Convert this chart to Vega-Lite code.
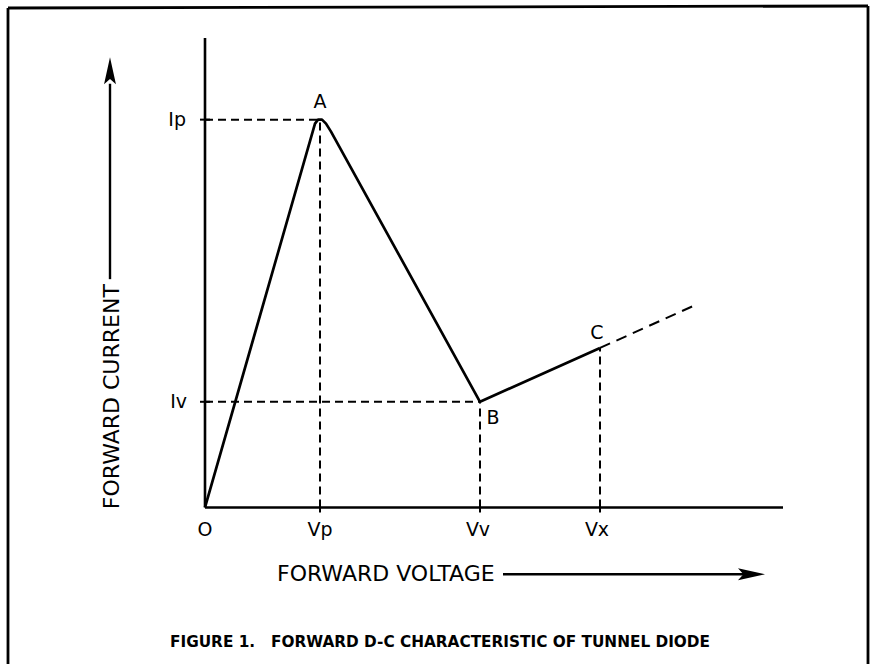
{
  "$schema": "https://vega.github.io/schema/vega-lite/v6.json",
  "width": 874,
  "height": 666,
  "autosize": {"type": "fit", "contains": "padding"},
  "padding": 0,
  "background": "white",
  "config": {"view": {"stroke": null}},
  "datasets": {
    "curve": [
      {"o": 1, "v": 0.0, "i": 0.0},
      {"o": 2, "v": 1.10, "i": 3.85},
      {"o": 3, "v": 1.13, "i": 3.89},
      {"o": 4, "v": 1.17, "i": 3.89},
      {"o": 5, "v": 1.21, "i": 3.85},
      {"o": 6, "v": 1.26, "i": 3.77},
      {"o": 7, "v": 2.75, "i": 1.06},
      {"o": 8, "v": 3.95, "i": 1.60}
    ],
    "extension": [
      {"o": 1, "v": 3.95, "i": 1.60},
      {"o": 2, "v": 4.88, "i": 2.02}
    ],
    "guides": [
      {"v1": 0, "v2": 1.14, "i1": 3.89, "i2": 3.89},
      {"v1": 0, "v2": 2.75, "i1": 1.06, "i2": 1.06},
      {"v1": 1.15, "v2": 1.15, "i1": 0, "i2": 3.89},
      {"v1": 2.75, "v2": 2.75, "i1": 0, "i2": 1.06},
      {"v1": 3.95, "v2": 3.95, "i1": 0, "i2": 1.60}
    ],
    "axes": [
      {"v1": 0, "v2": 0, "i1": 0, "i2": 4.71},
      {"v1": 0, "v2": 5.78, "i1": 0, "i2": 0}
    ],
    "ticks": [
      {"v1": -0.05, "v2": 0.05, "i1": 3.89, "i2": 3.89},
      {"v1": -0.05, "v2": 0.05, "i1": 1.06, "i2": 1.06},
      {"v1": 1.15, "v2": 1.15, "i1": -0.05, "i2": 0.05},
      {"v1": 2.75, "v2": 2.75, "i1": -0.05, "i2": 0.05},
      {"v1": 3.95, "v2": 3.95, "i1": -0.05, "i2": 0.05}
    ],
    "frame": [
      {"v1": -1.97, "v2": -1.97, "i1": -1.57, "i2": 5.01},
      {"v1": -1.97, "v2": 6.63, "i1": 5.01, "i2": 5.03},
      {"v1": 6.63, "v2": 6.63, "i1": 5.03, "i2": -1.57}
    ],
    "arrowLines": [
      {"v1": 2.98, "v2": 5.42, "i1": -0.67, "i2": -0.67},
      {"v1": -0.95, "v2": -0.95, "i1": 2.29, "i2": 4.25}
    ],
    "leftLabels": [
      {"v": -0.19, "i": 3.89, "label": "Ip"},
      {"v": -0.18, "i": 1.06, "label": "Iv"}
    ],
    "centerLabels": [
      {"v": 0.0, "i": -0.23, "label": "O"},
      {"v": 1.15, "i": -0.23, "label": "Vp"},
      {"v": 2.73, "i": -0.23, "label": "Vv"},
      {"v": 3.92, "i": -0.23, "label": "Vx"},
      {"v": 1.15, "i": 4.07, "label": "A"},
      {"v": 2.88, "i": 0.90, "label": "B"},
      {"v": 3.92, "i": 1.75, "label": "C"}
    ]
  },
  "layer": [
    {
      "data": {"name": "frame"},
      "mark": {"type": "rule", "color": "black", "strokeWidth": 2.8},
      "encoding": {
        "x": {"field": "v1", "type": "quantitative", "scale": {"domain": [-2.05, 6.69], "nice": false, "zero": false}, "axis": null},
        "x2": {"field": "v2"},
        "y": {"field": "i1", "type": "quantitative", "scale": {"domain": [-1.57, 5.09], "nice": false, "zero": false}, "axis": null},
        "y2": {"field": "i2"}
      }
    },
    {
      "data": {"name": "guides"},
      "mark": {"type": "rule", "color": "black", "strokeWidth": 2, "strokeDash": [8, 5]},
      "encoding": {
        "x": {"field": "v1", "type": "quantitative"},
        "x2": {"field": "v2"},
        "y": {"field": "i1", "type": "quantitative"},
        "y2": {"field": "i2"}
      }
    },
    {
      "data": {"name": "axes"},
      "mark": {"type": "rule", "color": "black", "strokeWidth": 2.6},
      "encoding": {
        "x": {"field": "v1", "type": "quantitative"},
        "x2": {"field": "v2"},
        "y": {"field": "i1", "type": "quantitative"},
        "y2": {"field": "i2"}
      }
    },
    {
      "data": {"name": "ticks"},
      "mark": {"type": "rule", "color": "black", "strokeWidth": 2},
      "encoding": {
        "x": {"field": "v1", "type": "quantitative"},
        "x2": {"field": "v2"},
        "y": {"field": "i1", "type": "quantitative"},
        "y2": {"field": "i2"}
      }
    },
    {
      "data": {"name": "curve"},
      "mark": {"type": "line", "color": "black", "strokeWidth": 2.7, "strokeJoin": "round"},
      "encoding": {
        "x": {"field": "v", "type": "quantitative"},
        "y": {"field": "i", "type": "quantitative"},
        "order": {"field": "o"}
      }
    },
    {
      "data": {"name": "extension"},
      "mark": {"type": "line", "color": "black", "strokeWidth": 2, "strokeDash": [11, 7]},
      "encoding": {
        "x": {"field": "v", "type": "quantitative"},
        "y": {"field": "i", "type": "quantitative"},
        "order": {"field": "o"}
      }
    },
    {
      "data": {"name": "arrowLines"},
      "mark": {"type": "rule", "color": "black", "strokeWidth": 2.4},
      "encoding": {
        "x": {"field": "v1", "type": "quantitative"},
        "x2": {"field": "v2"},
        "y": {"field": "i1", "type": "quantitative"},
        "y2": {"field": "i2"}
      }
    },
    {
      "data": {"values": [{"v": 5.465, "i": -0.67}]},
      "mark": {"type": "point", "filled": true, "color": "black", "opacity": 1, "size": 729, "shape": "M-1,-0.44L1,0L-1,0.44L-0.6,0Z"},
      "encoding": {
        "x": {"field": "v", "type": "quantitative"},
        "y": {"field": "i", "type": "quantitative"}
      }
    },
    {
      "data": {"values": [{"v": -0.95, "i": 4.38}]},
      "mark": {"type": "point", "filled": true, "color": "black", "opacity": 1, "size": 729, "shape": "M-0.44,1L0,-1L0.44,1L0,0.6Z"},
      "encoding": {
        "x": {"field": "v", "type": "quantitative"},
        "y": {"field": "i", "type": "quantitative"}
      }
    },
    {
      "data": {"name": "leftLabels"},
      "mark": {"type": "text", "align": "right", "baseline": "middle", "font": "DejaVu Sans", "fontSize": 19, "color": "black"},
      "encoding": {
        "x": {"field": "v", "type": "quantitative"},
        "y": {"field": "i", "type": "quantitative"},
        "text": {"field": "label"}
      }
    },
    {
      "data": {"name": "centerLabels"},
      "mark": {"type": "text", "align": "center", "baseline": "middle", "font": "DejaVu Sans", "fontSize": 19, "color": "black"},
      "encoding": {
        "x": {"field": "v", "type": "quantitative"},
        "y": {"field": "i", "type": "quantitative"},
        "text": {"field": "label"}
      }
    },
    {
      "data": {"values": [{"v": 0.72, "i": -0.67, "label": "FORWARD VOLTAGE"}]},
      "mark": {"type": "text", "align": "left", "baseline": "middle", "font": "DejaVu Sans", "fontSize": 22, "color": "black"},
      "encoding": {
        "x": {"field": "v", "type": "quantitative"},
        "y": {"field": "i", "type": "quantitative"},
        "text": {"field": "label"}
      }
    },
    {
      "data": {"values": [{"v": -0.93, "i": 2.24, "label": "FORWARD CURRENT"}]},
      "mark": {"type": "text", "align": "right", "baseline": "middle", "angle": 270, "font": "DejaVu Sans", "fontSize": 22, "color": "black"},
      "encoding": {
        "x": {"field": "v", "type": "quantitative"},
        "y": {"field": "i", "type": "quantitative"},
        "text": {"field": "label"}
      }
    },
    {
      "data": {"values": [
        {"v": -0.35, "i": -1.35, "label": "FIGURE 1."},
        {"v": 0.66, "i": -1.35, "label": "FORWARD D-C CHARACTERISTIC OF TUNNEL DIODE"}
      ]},
      "mark": {"type": "text", "align": "left", "baseline": "middle", "font": "DejaVu Sans", "fontWeight": "bold", "fontSize": 15.3, "color": "black"},
      "encoding": {
        "x": {"field": "v", "type": "quantitative"},
        "y": {"field": "i", "type": "quantitative"},
        "text": {"field": "label"}
      }
    }
  ]
}
